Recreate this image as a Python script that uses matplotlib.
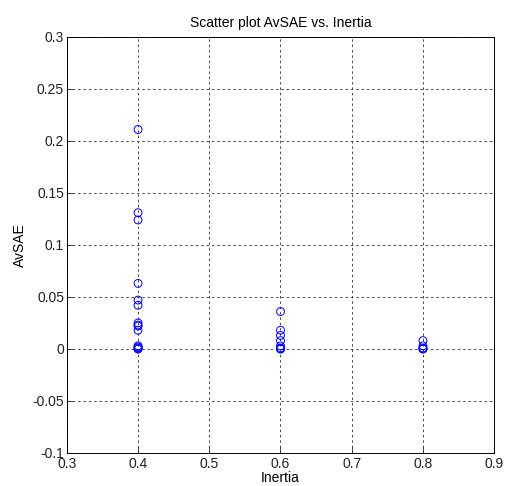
import matplotlib

matplotlib.use("Agg")

import matplotlib.pyplot as plt
import numpy as np

# Scatter values
inertia = [0.4] * 15 + [0.6] * 8 + [0.8] * 5
avsae = [
    0.211, 0.131, 0.124, 0.063, 0.047, 0.042, 0.025, 0.023,
    0.022, 0.018, 0.003, 0.002, 0.001, 0.0, 0.0,
    0.036, 0.018, 0.013, 0.008, 0.003, 0.001, 0.0, 0.0,
    0.008, 0.003, 0.001, 0.0, 0.0,
]

x_ticks = [0.3, 0.4, 0.5, 0.6, 0.7, 0.8, 0.9]
y_ticks = [-0.1, -0.05, 0, 0.05, 0.1, 0.15, 0.2, 0.25, 0.3]

plt.rcParams["font.family"] = ["Liberation Sans", "DejaVu Sans"]

fig = plt.figure(figsize=(5.1, 4.86), dpi=100)
ax = fig.add_axes([0.131, 0.068, 0.838, 0.856])

ax.scatter(inertia, avsae, s=32, facecolors="none", edgecolors="#0000ff",
           linewidths=0.7, zorder=3)

ax.set_xlim(0.3, 0.9)
ax.set_ylim(-0.1, 0.3)
ax.set_xticks(x_ticks)
ax.set_yticks(y_ticks)
ax.set_xticklabels([f"{v:g}" for v in x_ticks])
ax.set_yticklabels([f"{v:g}" for v in y_ticks])
ax.tick_params(direction="in", length=4, labelsize=10, width=0.6,
               colors="#222222")
ax.tick_params(axis="x", pad=3)
ax.tick_params(axis="y", pad=2)
ax.grid(True, color="#444444", linestyle=(0, (2.5, 3)), linewidth=0.7)
for sp in ax.spines.values():
    sp.set_linewidth(0.7)

ax.set_xlabel("Inertia", fontsize=10, labelpad=0)
ax.set_ylabel("AvSAE", fontsize=10, labelpad=4)
ax.set_title("Scatter plot AvSAE vs. Inertia", fontsize=10, pad=7)

fig.savefig("out.png", dpi=100)
